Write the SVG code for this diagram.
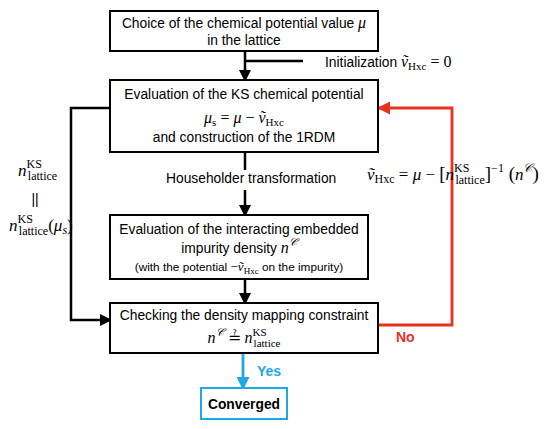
<svg xmlns="http://www.w3.org/2000/svg" width="550" height="429" viewBox="0 0 550 429">
<style>
.box{fill:#fff;stroke:#000;stroke-width:2}
.t{font-family:"Liberation Sans",Arial,sans-serif;font-size:13.8px;fill:#000;text-anchor:middle}
.s{font-family:"Liberation Sans",Arial,sans-serif;font-size:11.8px;fill:#000;text-anchor:middle}
.m{font-family:"Liberation Serif","DejaVu Serif",serif;font-size:16px;fill:#000}
.L{font-size:17px}
.i{font-style:italic}
.sub{font-size:11px}
.L .sub{font-size:12px}
.blk{stroke:#000;stroke-width:2.5;fill:none}
.red{stroke:#e8321e;stroke-width:2.8;fill:none}
.blue{stroke:#1ea9e6;stroke-width:2.8;fill:none}
.lbl{font-family:"Liberation Sans",Arial,sans-serif;font-size:14px;font-weight:bold}
</style>
<defs>
<marker id="ab" markerWidth="12" markerHeight="12" refX="10" refY="6" orient="auto" markerUnits="userSpaceOnUse" viewBox="0 0 12 12"><path d="M0,0 L12,6 L0,12 z" fill="#000"/></marker>
<marker id="ar" markerWidth="13" markerHeight="13" refX="11" refY="6.5" orient="auto" markerUnits="userSpaceOnUse" viewBox="0 0 13 13"><path d="M0,0 L13,6.5 L0,13 z" fill="#e8321e"/></marker>
<marker id="abl" markerWidth="13" markerHeight="13" refX="11" refY="6.5" orient="auto" markerUnits="userSpaceOnUse" viewBox="0 0 13 13"><path d="M0,0 L13,6.5 L0,13 z" fill="#1ea9e6"/></marker>
</defs>
<g id="connectors">
<path class="blk" d="M245,51 V80" marker-end="url(#ab)"/>
<path class="blk" d="M245,61 H303"/>
<path class="blk" d="M245,152 V170"/>
<path class="blk" d="M245,190 V215" marker-end="url(#ab)"/>
<path class="blk" d="M245,279 V303" marker-end="url(#ab)"/>
<path class="blk" d="M110,108 H71 V320 H110" marker-end="url(#ab)"/>
<path class="red" d="M378,325 H452 V108 H379" marker-end="url(#ar)"/>
<path class="blue" d="M243,353 V388" marker-end="url(#abl)"/>
</g>
<text class="t" x="166" y="183" style="text-anchor:start">Householder transformation</text>
<text class="t" x="325" y="67" style="text-anchor:start">Initialization <tspan class="m i">ṽ</tspan><tspan class="m sub" dy="3">Hxc</tspan><tspan class="m" dy="-3"> = 0</tspan></text>
<g id="n1">
<rect class="box" x="110" y="11" width="268" height="40"/>
<text class="t" x="244" y="28">Choice of the chemical potential value <tspan class="m i">μ</tspan></text>
<text class="t" x="244" y="45">in the lattice</text>
</g>
<g id="n2">
<rect class="box" x="110" y="80" width="268" height="72"/>
<text class="t" x="244" y="99">Evaluation of the KS chemical potential</text>
<text class="m" x="244" y="123" text-anchor="middle"><tspan class="i">μ</tspan><tspan class="sub" dy="3">s</tspan><tspan dy="-3"> = </tspan><tspan class="i">μ</tspan> − <tspan class="i">ṽ</tspan><tspan class="sub" dy="3">Hxc</tspan></text>
<text class="t" x="244" y="142">and construction of the 1RDM</text>
</g>
<g id="n3">
<rect class="box" x="110" y="215" width="258" height="64"/>
<text class="t" x="239" y="234">Evaluation of the interacting embedded</text>
<text class="t" x="239" y="253">impurity density <tspan class="m i">n</tspan><tspan class="m i sub" dy="-7">𝒞</tspan></text>
<text class="s" x="239" y="271">(with the potential <tspan class="m" style="font-size:13px">−</tspan><tspan class="m i" style="font-size:13px">ṽ</tspan><tspan class="m" style="font-size:9px" dy="3">Hxc</tspan><tspan dy="-3"> on the impurity)</tspan></text>
</g>
<g id="n4">
<rect class="box" x="110" y="303" width="268" height="50"/>
<text class="t" x="244" y="320">Checking the density mapping constraint</text>
<text class="m" x="244" y="343" text-anchor="middle"><tspan class="i">n</tspan><tspan class="i sub" dy="-7">𝒞</tspan><tspan dy="7"> ≟ </tspan><tspan class="i">n</tspan><tspan class="sub" dy="-7">KS</tspan><tspan class="sub" dx="-13" dy="11">lattice</tspan></text>
</g>
<g id="n5">
<rect x="201" y="388" width="86" height="31" fill="#fff" stroke="#1ea9e6" stroke-width="2"/>
<text class="t" x="244" y="409" style="font-weight:bold">Converged</text>
</g>
<text class="lbl" x="257" y="376" fill="#1ea9e6">Yes</text>
<text class="lbl" x="396" y="342" fill="#e8321e">No</text>
<text class="m L" x="367" y="180"><tspan class="i">ṽ</tspan><tspan class="sub" dy="3">Hxc</tspan><tspan dy="-3"> = </tspan><tspan class="i">μ</tspan> − <tspan style="font-size:19px">[</tspan><tspan class="i">n</tspan><tspan class="sub" dy="-8">KS</tspan><tspan class="sub" dx="-14" dy="12">lattice</tspan><tspan dy="-4" style="font-size:19px">]</tspan><tspan class="sub" dy="-8">−1</tspan><tspan dy="8" style="font-size:19px"> (</tspan><tspan class="i">n</tspan><tspan class="i sub" dy="-8">𝒞</tspan><tspan dy="8" style="font-size:19px">)</tspan></text>
<text class="m L" x="18" y="176"><tspan class="i">n</tspan><tspan class="sub" dy="-8">KS</tspan><tspan class="sub" dx="-14" dy="12">lattice</tspan></text>
<text class="t" x="35" y="204">||</text>
<text class="m L" x="9" y="231"><tspan class="i">n</tspan><tspan class="sub" dy="-8">KS</tspan><tspan class="sub" dx="-14" dy="12">lattice</tspan><tspan dy="-4">(</tspan><tspan class="i">μ</tspan><tspan class="sub i" dy="3">s</tspan><tspan dy="-3">)</tspan></text>
</svg>
